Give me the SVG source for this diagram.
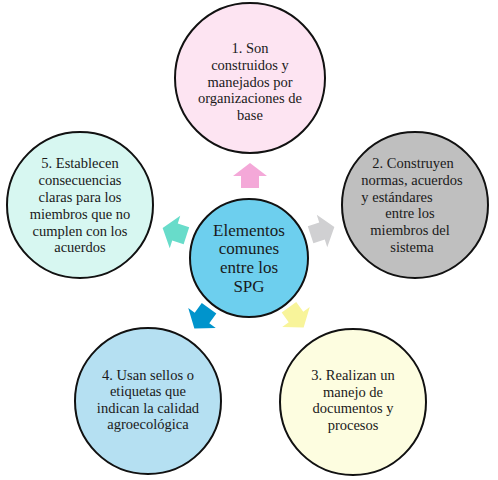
<svg xmlns="http://www.w3.org/2000/svg" width="498" height="480" viewBox="0 0 498 480">
<defs>
<style>
.c{stroke:#111;stroke-width:2}
.t{font-family:"Liberation Serif","DejaVu Serif",serif;font-size:14.5px;fill:#1a1a1a;text-anchor:middle}
.tc{font-size:17px}
</style>
<path id="arr" d="M0,-13 L17,0 L9,0 L9,12 L-9,12 L-9,0 L-17,0 Z"/>
</defs>
<rect width="498" height="480" fill="#fff"/>
<g id="connectors">
<use href="#arr" fill="#f4a8d8" transform="translate(250,176)"/>
<use href="#arr" fill="#d0d0d2" transform="translate(322,231) rotate(72)"/>
<use href="#arr" fill="#f8f49a" transform="translate(296,317) rotate(144)"/>
<use href="#arr" fill="#0094cc" transform="translate(202,318) rotate(-144)"/>
<use href="#arr" fill="#68dcca" transform="translate(175,232) rotate(-72)"/>
</g>
<g id="center">
<circle class="c" cx="249" cy="258" r="59" fill="#6dcfee"/>
<text class="t tc"><tspan x="249" y="236">Elementos</tspan><tspan x="249" y="254">comunes</tspan><tspan x="249" y="273">entre los</tspan><tspan x="249" y="292">SPG</tspan></text>
</g>
<g id="n1">
<circle class="c" cx="250" cy="78" r="75" fill="#fde4f2"/>
<text class="t"><tspan x="250" y="53">1. Son</tspan><tspan x="250" y="70">construidos y</tspan><tspan x="250" y="87">manejados por</tspan><tspan x="250" y="103">organizaciones de</tspan><tspan x="250" y="120">base</tspan></text>
</g>
<g id="n2">
<circle class="c" cx="415" cy="205" r="73" fill="#bfbfbf"/>
<text class="t"><tspan x="413" y="168">2. Construyen</tspan><tspan x="412" y="185">normas, acuerdos</tspan><tspan x="397" y="202">y estándares</tspan><tspan x="410" y="218">entre los</tspan><tspan x="410" y="235">miembros del</tspan><tspan x="412" y="252">sistema</tspan></text>
</g>
<g id="n3">
<circle class="c" cx="353" cy="402" r="73" fill="#fdfde0"/>
<text class="t"><tspan x="353" y="380">3. Realizan un</tspan><tspan x="353" y="397">manejo de</tspan><tspan x="353" y="413">documentos y</tspan><tspan x="353" y="430">procesos</tspan></text>
</g>
<g id="n4">
<circle class="c" cx="148" cy="401" r="73" fill="#b5e0f2"/>
<text class="t"><tspan x="148" y="380">4. Usan sellos o</tspan><tspan x="148" y="396">etiquetas que</tspan><tspan x="148" y="413">indican la calidad</tspan><tspan x="148" y="429">agroecológica</tspan></text>
</g>
<g id="n5">
<circle class="c" cx="80" cy="205" r="73" fill="#d7f7f1"/>
<text class="t"><tspan x="80" y="168">5. Establecen</tspan><tspan x="80" y="185">consecuencias</tspan><tspan x="80" y="202">claras para los</tspan><tspan x="80" y="219">miembros que no</tspan><tspan x="80" y="236">cumplen con los</tspan><tspan x="80" y="252">acuerdos</tspan></text>
</g>
</svg>
